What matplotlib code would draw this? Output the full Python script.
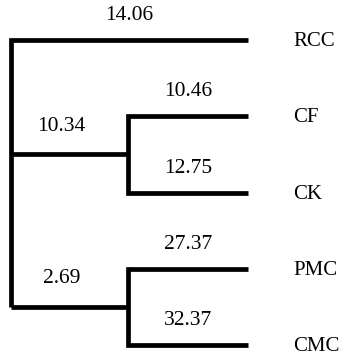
import matplotlib.pyplot as plt

# leaves, top to bottom
leaves = ["RCC", "CF", "CK", "PMC", "CMC"]
leaf_values = ["14.06", "10.46", "12.75", "27.37", "32.37"]
# internal clusters: (first leaf, last leaf), value
clusters = [(1, 2), (3, 4)]
cluster_values = ["10.34", "2.69"]

root_x = 11
node_x = 128
tip_x = 248

plt.rcParams['font.family'] = ['Liberation Serif', 'DejaVu Serif']

fig = plt.figure(figsize=(3.4, 3.56), dpi=100)
ax = fig.add_axes([0, 0, 1, 1])
ax.set_xlim(0, 340)
ax.set_ylim(4.144, -0.525)
ax.axis('off')

lw = 3.4
kw = dict(color='black', lw=lw, solid_capstyle='butt', solid_joinstyle='miter')

# cluster nodes
node_y = []
for (a, b), val in zip(clusters, cluster_values):
    mid = (a + b) / 2
    node_y.append(mid)
    ax.plot([tip_x, node_x, node_x, tip_x], [a, a, b, b], **kw)
    ax.plot([root_x, node_x], [mid, mid], **kw)
    ax.text((root_x + node_x) / 2 - 8, mid - 0.37, val, ha='center', va='center', fontsize=15.5)

# root
ax.plot([tip_x, root_x, root_x], [0, 0, node_y[-1]], **kw)

for i, (name, val) in enumerate(zip(leaves, leaf_values)):
    start = root_x if i == 0 else node_x
    ax.text((start + tip_x) / 2, i - 0.32, val, ha='center', va='center', fontsize=15.5)
    ax.text(293, i + 0.02, name, ha='left', va='center', fontsize=15)

fig.savefig('out.png', dpi=100)
